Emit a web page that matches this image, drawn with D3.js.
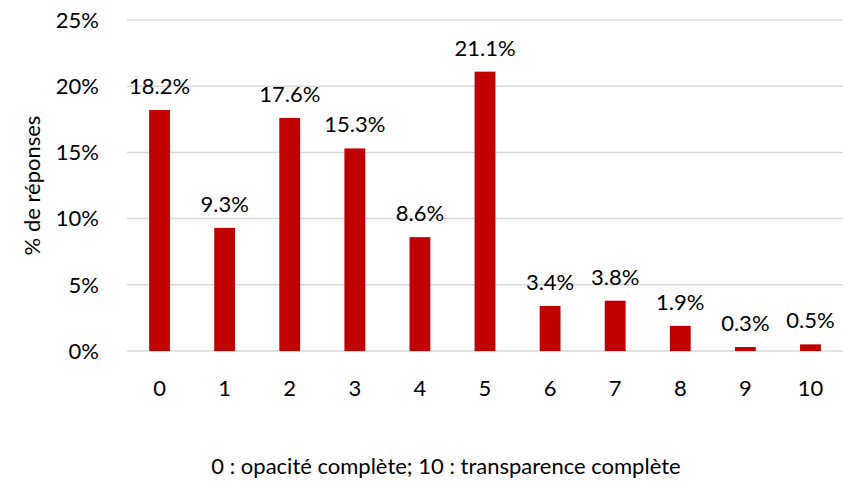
<!DOCTYPE html>
<html><head><meta charset="utf-8">
<script src="https://cdn.jsdelivr.net/npm/d3@7"></script>
<style>body{margin:0;background:#fff}text{font-family:Lato,"Open Sans",sans-serif;fill:#000}</style>
</head><body>
<svg id="c" width="857" height="488"></svg>
<script>
const categories = ["0","1","2","3","4","5","6","7","8","9","10"];
const values = [18.2, 9.3, 17.6, 15.3, 8.6, 21.1, 3.4, 3.8, 1.9, 0.3, 0.5];
const yTicks = [0, 5, 10, 15, 20, 25];
const yTitle = "% de réponses";
const xTitle = "0 : opacité complète; 10 : transparence complète";

(function(){
const svg = d3.select("#c");
const pL = 127, pR = 843, pT = 20, pB = 351;
const fs = 22;
const x = d3.scaleBand().domain(categories).range([pL, pR]).paddingInner(0.68).paddingOuter(0.34);
const y = d3.scaleLinear().domain([0, 25]).range([pB, pT]);

svg.append("g").selectAll("line").data(yTicks).join("line")
  .attr("x1", pL).attr("x2", pR)
  .attr("y1", d => y(d)).attr("y2", d => y(d))
  .attr("stroke", "#d9d9d9").attr("stroke-width", 1.5);

svg.append("g").selectAll("text").data(yTicks).join("text")
  .attr("x", 99).attr("y", d => y(d)).attr("dy", "0.35em")
  .attr("text-anchor", "end").style("font-size", fs + "px")
  .text(d => d + "%");

svg.append("g").selectAll("rect").data(values).join("rect")
  .attr("x", (d, i) => x(categories[i])).attr("width", x.bandwidth())
  .attr("y", d => y(d)).attr("height", d => y(0) - y(d))
  .attr("fill", "#c00000");

svg.append("g").selectAll("text").data(values).join("text")
  .attr("x", (d, i) => x(categories[i]) + x.bandwidth() / 2)
  .attr("y", d => y(d) - 16)
  .attr("text-anchor", "middle").style("font-size", fs + "px")
  .text(d => d.toFixed(1) + "%");

svg.append("g").selectAll("text").data(categories).join("text")
  .attr("x", d => x(d) + x.bandwidth() / 2).attr("y", 396)
  .attr("text-anchor", "middle").style("font-size", fs + "px")
  .text(d => d);

svg.append("text").attr("transform", "translate(40,185.5) rotate(-90)")
  .attr("text-anchor", "middle").style("font-size", fs + "px").text(yTitle);

svg.append("text").attr("x", 446).attr("y", 474)
  .attr("text-anchor", "middle").style("font-size", fs + "px").text(xTitle);
})();
</script>
</body></html>
